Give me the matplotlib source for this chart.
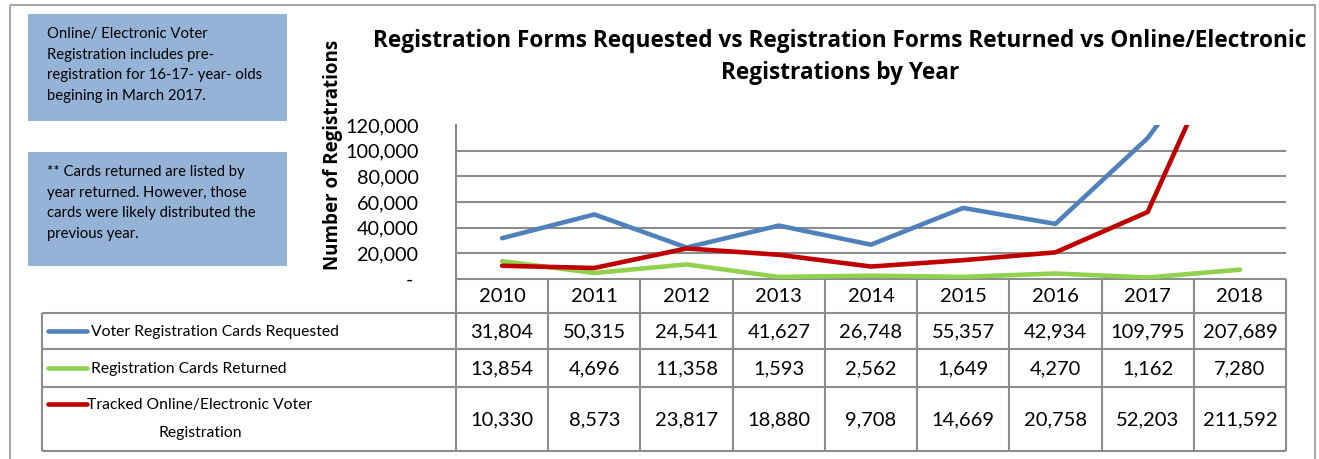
import matplotlib.pyplot as plt
from matplotlib.patches import Rectangle
from matplotlib.ticker import FuncFormatter

plt.rcParams["font.family"] = ["Lato", "DejaVu Sans"]
WIDE = ["Open Sans", "DejaVu Sans"]

years = ["2010", "2011", "2012", "2013", "2014", "2015", "2016", "2017", "2018"]
requested = [31804, 50315, 24541, 41627, 26748, 55357, 42934, 109795, 207689]
returned = [13854, 4696, 11358, 1593, 2562, 1649, 4270, 1162, 7280]
online = [10330, 8573, 23817, 18880, 9708, 14669, 20758, 52203, 211592]
series_names = ["Voter Registration Cards Requested", "Registration Cards Returned",
                "Tracked Online/Electronic Voter\nRegistration"]
series_colors = ["#4F81BD", "#92D050", "#C00000"]
yticks = [0, 20000, 40000, 60000, 80000, 100000, 120000]

W, H = 1319, 459
GRID = "#8C8C8C"

fig = plt.figure(figsize=(W / 100, H / 100), dpi=100)

# full-figure pixel axes for frame, boxes and table
pix = fig.add_axes([0, 0, 1, 1])
pix.set_xlim(0, W)
pix.set_ylim(H, 0)
pix.axis("off")

pix.add_patch(Rectangle((10, 5), 1305, 470, fill=False, ec="#A6A6A6", lw=1.5))

# note boxes
pix.add_patch(Rectangle((28, 14), 259, 107, fc="#95B3D7", ec="none"))
pix.add_patch(Rectangle((28, 152), 259, 114, fc="#95B3D7", ec="none"))
pix.text(47, 27, "Online/ Electronic Voter\nRegistration includes pre-\n"
         "registration for 16-17- year- olds\nbegining in March 2017.",
         fontsize=10.7, va="top", ha="left", linespacing=1.6)
pix.text(47, 165, "** Cards returned are listed by\nyear returned. However, those\n"
         "cards were likely distributed the\nprevious year.",
         fontsize=10.7, va="top", ha="left", linespacing=1.6)

# title and y label
pix.text(840, 57, "Registration Forms Requested vs Registration Forms Returned vs Online/Electronic\n"
         "Registrations by Year", fontsize=16.3, fontweight="bold", family=WIDE,
         ha="center", va="center", linespacing=1.4)
pix.text(333, 155, "Number of Registrations", fontsize=13.5, fontweight="bold",
         family=WIDE, rotation=90, ha="center", va="center")

# chart area
left, right, top, bottom = 456, 1286, 125, 279
ax = fig.add_axes([left / W, 1 - bottom / H, (right - left) / W, (bottom - top) / H])
ax.set_facecolor("none")
for vals, c in zip([requested, returned, online], series_colors):
    ax.plot(range(len(years)), vals, color=c, lw=3.3, solid_capstyle="round",
            solid_joinstyle="round", zorder=3)
ax.set_xlim(-0.5, len(years) - 0.5)
ax.set_ylim(0, 120000)
ax.set_yticks(yticks)
ax.yaxis.set_major_formatter(FuncFormatter(lambda v, p: "- " if v == 0 else f"{int(v):,}"))
ax.tick_params(axis="y", length=0, pad=27, labelsize=14.3)
ax.set_xticks([])
ax.grid(axis="y", color=GRID, lw=1.5)
ax.get_ygridlines()[-1].set_visible(False)
ax.get_ygridlines()[0].set_visible(False)
for s in ["top", "right", "bottom"]:
    ax.spines[s].set_visible(False)
ax.spines["left"].set_color(GRID)
ax.spines["left"].set_linewidth(1.5)

# data table
cw = (right - left) / len(years)
rows = [279, 313, 349, 387, 451]
leg_left = 42
kw = dict(color=GRID, lw=1.5, solid_capstyle="butt")
pix.plot([left, right], [rows[0]] * 2, **kw)
for r in rows[1:]:
    pix.plot([leg_left, right], [r, r], **kw)
pix.plot([leg_left, leg_left], [rows[1], rows[-1]], **kw)
pix.plot([left, left], [rows[0], rows[-1]], **kw)
for i in range(1, len(years) + 1):
    x = left + i * cw
    pix.plot([x, x], [rows[0], rows[-1]], **kw)

for i, y in enumerate(years):
    pix.text(left + (i + 0.5) * cw, (rows[0] + rows[1]) / 2 + 1, y,
             fontsize=14.5, ha="center", va="center")

for r, (name, vals, c) in enumerate(zip(series_names, [requested, returned, online], series_colors)):
    yc = (rows[r + 1] + rows[r + 2]) / 2
    for i, v in enumerate(vals):
        pix.text(left + (i + 0.5) * cw, yc + 1, f"{v:,}", fontsize=14.5,
                 ha="center", va="center")
    if "\n" in name:
        first, second = name.split("\n")
        pix.plot([48, 87], [404, 404], color=c, lw=3.3, solid_capstyle="round")
        pix.text(200, 405, first, fontsize=11.3, ha="center", va="center")
        pix.text(200, 433, second, fontsize=11.3, ha="center", va="center")
    else:
        pix.plot([48, 87], [yc, yc], color=c, lw=3.3, solid_capstyle="round")
        pix.text(91, yc + 1, name, fontsize=11.3, ha="left", va="center")

fig.savefig("out.png", dpi=100)
